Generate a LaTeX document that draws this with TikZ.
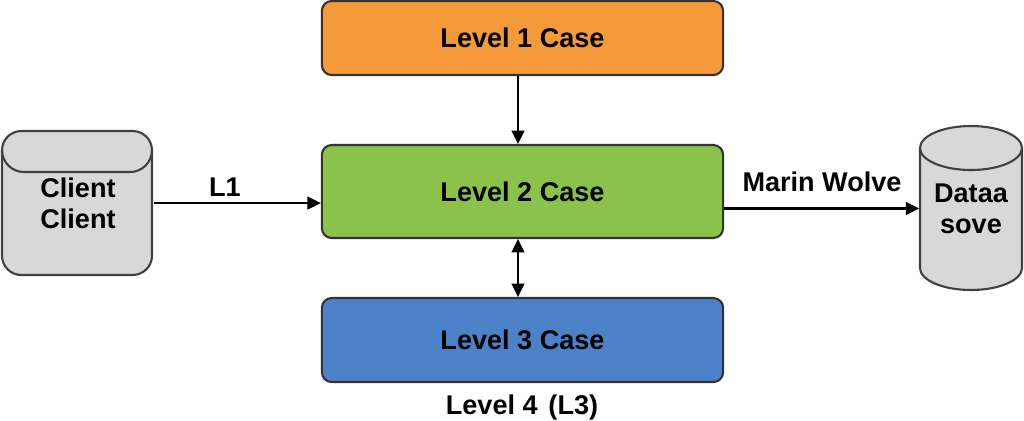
\documentclass[tikz,border=0pt]{standalone}
\usepackage{fontspec}
\setmainfont{Liberation Sans}
\usetikzlibrary{arrows.meta}
\definecolor{caseorange}{RGB}{245,154,56}
\definecolor{casegreen}{RGB}{139,194,74}
\definecolor{caseblue}{RGB}{76,130,200}
\definecolor{storegray}{RGB}{216,216,216}
\begin{document}
\begin{tikzpicture}[x=0.01cm,y=-0.01cm,
    every node/.style={font=\bfseries\fontsize{7.7}{8.8}\selectfont},
    casebox/.style={draw=black!80,line width=0.6pt,rounded corners=2.8pt,minimum width=4.01cm,inner sep=0pt},
    outline/.style={draw=black!75,fill=storegray,line width=0.6pt},
    link/.style={line width=0.6pt,-{Triangle[length=3.8pt,width=3.6pt]}}]
        \useasboundingbox (0,0) rectangle (1024,420);
        % the three case boxes
        \node[casebox,fill=caseorange,minimum height=0.74cm] (lev1) at (522.5,38) {Level 1 Case};
        \node[casebox,fill=casegreen,minimum height=0.93cm] (lev2) at (522.5,191.5) {Level 2 Case};
        \node[casebox,fill=caseblue,minimum height=0.84cm] (lev3) at (522.5,340) {Level 3 Case};
        \node (lev4) at (522,407) {Level 4\hspace{0.4em}(L3)};
        % client
        \draw[outline,rounded corners=5.5pt] (2,131) rectangle (152,275);
        \draw[draw=black!75,line width=0.6pt] (2,150) to[out=-90,in=180] (24,172) -- (130,172) to[out=0,in=-90] (152,150);
        \node[align=center,minimum width=1.5cm,minimum height=1.44cm,inner sep=0pt] (client) at (78,203) {Client\\Client};
        % data store
        \fill[storegray] (920,148) -- (920,268) arc[start angle=180,end angle=0,x radius=51,y radius=22] -- (1022,148) -- cycle;
        \draw[draw=black!75,line width=0.6pt] (920,148) -- (920,268) arc[start angle=180,end angle=0,x radius=51,y radius=22] -- (1022,148);
        \draw[outline] (971,148) ellipse [x radius=51,y radius=22];
        \node[align=center,minimum width=1.02cm,minimum height=1.67cm,inner sep=0pt] (store) at (971,208.5) {Dataa\\sove};
        % labels
        \node (l1) at (225,187) {L1};
        \node (marin) at (822,182) {Marin Wolve};
        % connectors
        \draw[link] (client.east) -- (client.east -| lev2.west);
        \draw[link] (lev2.east |- store.west) -- (store.west);
        \draw[link] ([xshift=-0.045cm]lev1.south) -- ([xshift=-0.045cm]lev2.north);
        \draw[link,{Triangle[length=3.8pt,width=3.6pt]}-{Triangle[length=3.8pt,width=3.6pt]}] ([xshift=-0.045cm]lev2.south) -- ([xshift=-0.045cm]lev3.north);
\end{tikzpicture}
\end{document}
